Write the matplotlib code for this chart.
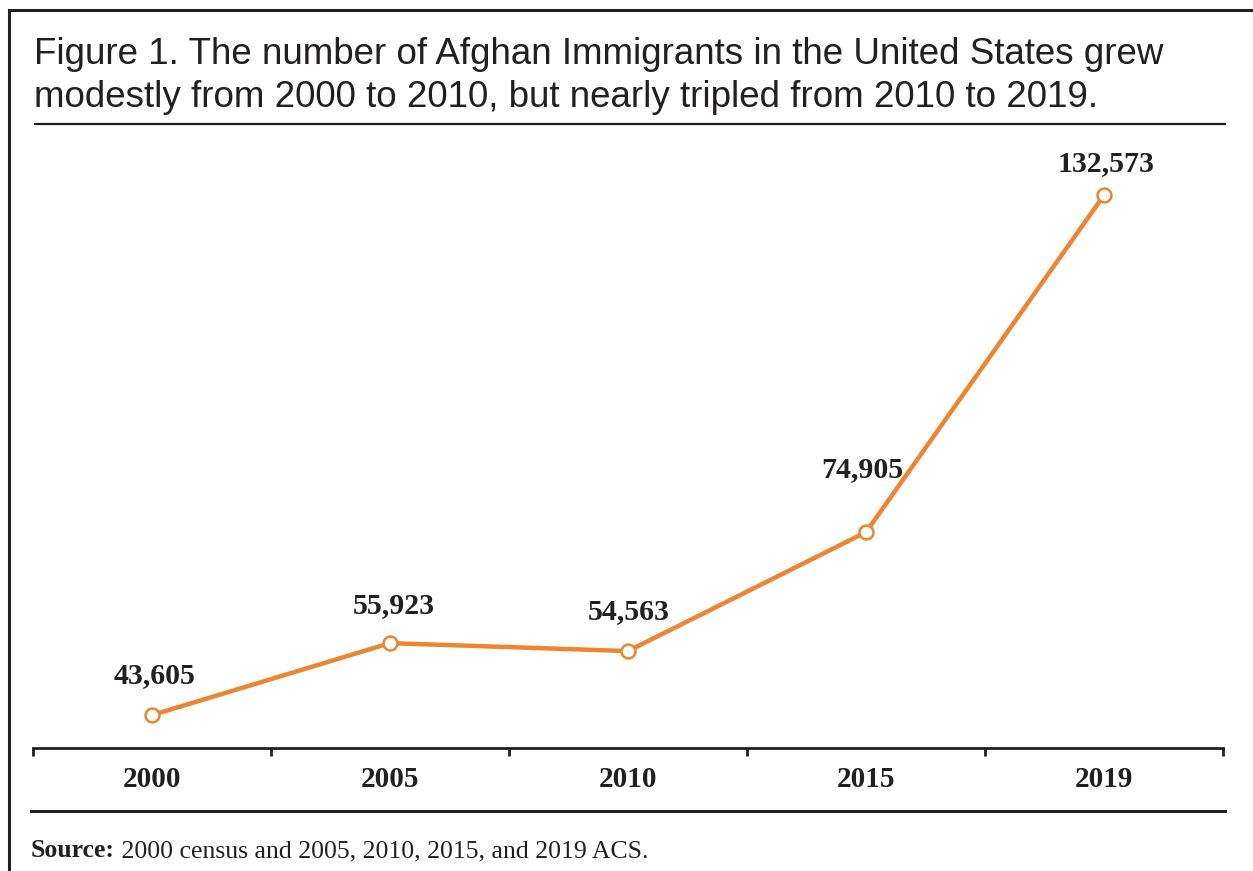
import matplotlib
matplotlib.use("Agg")
import matplotlib.pyplot as plt
from matplotlib.lines import Line2D

years = ["2000", "2005", "2010", "2015", "2019"]
immigrants = [43605, 55923, 54563, 74905, 132573]
value_labels = ["43,605", "55,923", "54,563", "74,905", "132,573"]
title = ("Figure 1. The number of Afghan Immigrants in the United States grew\n"
         "modestly from 2000 to 2010, but nearly tripled from 2010 to 2019.")
source_bold = "Source:"
source_rest = " 2000 census and 2005, 2010, 2015, and 2019 ACS."

W, H = 1253, 871
DPI = 100
fig = plt.figure(figsize=(W / DPI, H / DPI), dpi=DPI)
fig.patch.set_facecolor("white")

def fx(px):
    return px / W

def fy(py):
    return 1 - py / H

DARK = "#231F20"
ORANGE = "#EF8430"

# outer open frame (top and left)
fig.add_artist(Line2D([fx(9), fx(9), fx(W)], [fy(H), fy(10), fy(10)],
                      color=DARK, lw=2.2, solid_joinstyle="miter"))
# rule below title
fig.add_artist(Line2D([fx(35), fx(1225)], [fy(124), fy(124)], color=DARK, lw=1.6))
# rule above source
fig.add_artist(Line2D([fx(31), fx(1225)], [fy(811), fy(811)], color=DARK, lw=2.2))

fig.text(fx(34), fy(37), title, ha="left", va="top",
         family="Liberation Sans", fontsize=26.5, color=DARK, linespacing=1.3)

# source line
t1 = fig.text(fx(31), fy(857), source_bold, ha="left", va="baseline",
              family="Liberation Serif", fontweight="bold", fontsize=18.5, color=DARK)
fig.canvas.draw()
bb = t1.get_window_extent()
fig.text(bb.x1 / W, fy(857), source_rest, ha="left", va="baseline",
         family="Liberation Serif", fontsize=18.5, color=DARK)

# axes
left, right, top, bottom = 33, 1223, 124, 748
ax = fig.add_axes([fx(left), fy(bottom), fx(right - left), (bottom - top) / H])
ax.set_facecolor("none")
x = list(range(len(years)))
ax.plot(x, immigrants, color=ORANGE, lw=3.2, marker="o", markersize=10,
        markerfacecolor="white", markeredgecolor=ORANGE, markeredgewidth=1.8,
        solid_capstyle="round", zorder=3)

ax.set_xlim(-0.5, len(years) - 0.5)
ax.set_ylim(37980, 144740)
for s in ["top", "left", "right"]:
    ax.spines[s].set_visible(False)
ax.spines["bottom"].set_color(DARK)
ax.spines["bottom"].set_linewidth(2)
ax.set_yticks([])
ax.set_xticks(x)
ax.set_xticklabels(years, family="Liberation Serif", fontweight="bold",
                   fontsize=21, color=DARK)
ax.tick_params(axis="x", which="major", length=0, pad=13)
ax.set_xticks([i - 0.5 for i in range(len(years) + 1)], minor=True)
ax.tick_params(axis="x", which="minor", length=6, width=2, color=DARK, direction="out")

# label offsets in points (layout only)
offsets = [(1.6, 18.6), (2.4, 17.2), (0.4, 18.8), (-3, 35.4), (1.3, 13.2)]
for xi, yi, lab, off in zip(x, immigrants, value_labels, offsets):
    ax.annotate(lab, (xi, yi), xytext=off, textcoords="offset points",
                ha="center", va="bottom", family="Liberation Serif",
                fontweight="bold", fontsize=21.5, color=DARK)

fig.savefig("out.png", dpi=DPI)
